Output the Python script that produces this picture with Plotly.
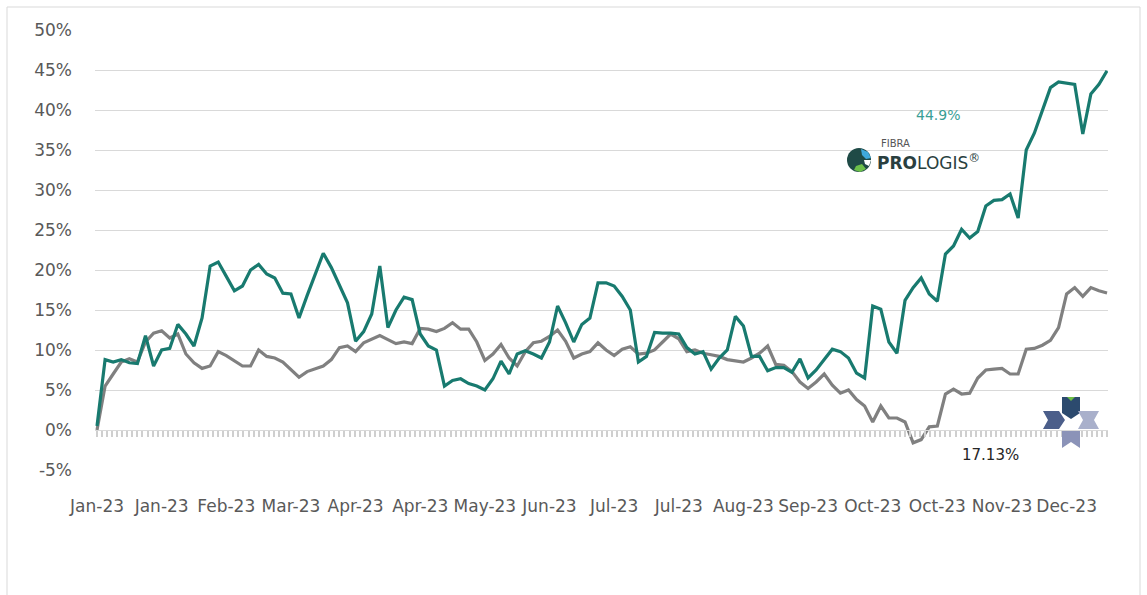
import plotly.graph_objects as go

# ---- data (cumulative return, %) ----
month_labels = ["Jan-23", "Jan-23", "Feb-23", "Mar-23", "Apr-23", "Apr-23", "May-23", "Jun-23",
                "Jul-23", "Jul-23", "Aug-23", "Sep-23", "Oct-23", "Oct-23", "Nov-23", "Dec-23"]
label_step = 8

fibra_prologis = [
    0.5, 8.8, 8.5, 8.8, 8.4, 8.3, 11.8, 8.0, 10.0, 10.2,
    13.2, 12.0, 10.5, 14.0, 20.5, 21.0, 19.2, 17.4, 18.0, 20.0,
    20.7, 19.5, 19.0, 17.1, 17.0, 14.0, 16.8, 19.5, 22.1, 20.3,
    18.0, 15.9, 11.1, 12.3, 14.5, 20.5, 12.8, 15.0, 16.6, 16.3,
    12.0, 10.5, 10.0, 5.5, 6.2, 6.4, 5.8, 5.5, 5.0, 6.4,
    8.6, 7.0, 9.5, 9.9, 9.5, 9.0, 11.0, 15.5, 13.4, 11.0,
    13.2, 14.0, 18.4, 18.4, 18.0, 16.7, 15.0, 8.5, 9.2, 12.2,
    12.1, 12.1, 12.0, 10.3, 9.5, 9.8, 7.6, 9.0, 10.0, 14.2,
    13.0, 9.2, 9.2, 7.4, 7.8, 7.8, 7.2, 8.9, 6.5, 7.5,
    8.8, 10.1, 9.8, 9.0, 7.1, 6.5, 15.5, 15.1, 11.0, 9.6,
    16.2, 17.8, 19.0, 17.0, 16.1, 22.0, 23.0, 25.1, 24.0, 24.8,
    28.0, 28.7, 28.8, 29.5, 26.5, 35.0, 37.1, 40.0, 42.8, 43.5,
    43.4, 43.2, 37.0, 42.0, 43.2, 44.9,
]

benchmark = [
    0.0, 5.5, 7.0, 8.5, 8.9, 8.5, 11.0, 12.1, 12.4, 11.5,
    12.0, 9.5, 8.4, 7.7, 8.0, 9.8, 9.3, 8.6, 8.0, 8.0,
    10.0, 9.2, 9.0, 8.5, 7.5, 6.6, 7.3, 7.6, 8.0, 8.8,
    10.3, 10.5, 9.8, 10.9, 11.4, 11.8, 11.3, 10.8, 11.0, 10.8,
    12.7, 12.6, 12.3, 12.7, 13.4, 12.6, 12.6, 11.0, 8.7, 9.5,
    10.7, 9.0, 8.0, 9.8, 10.9, 11.1, 11.7, 12.5, 11.1, 9.0,
    9.5, 9.8, 10.9, 10.0, 9.3, 10.1, 10.4, 9.5, 9.6, 10.0,
    11.0, 12.0, 11.4, 9.8, 10.0, 9.6, 9.4, 9.2, 8.8, 8.6,
    8.5, 9.0, 9.6, 10.5, 8.2, 8.1, 7.3, 6.0, 5.2, 6.0,
    7.0, 5.6, 4.6, 5.0, 3.8, 3.0, 1.0, 3.0, 1.5, 1.5,
    1.0, -1.6, -1.2, 0.4, 0.5, 4.5, 5.1, 4.5, 4.6, 6.5,
    7.5, 7.6, 7.7, 7.0, 7.0, 10.1, 10.2, 10.6, 11.2, 12.8,
    17.0, 17.8, 16.7, 17.8, 17.4, 17.13,
]

y_tick_values = [-5, 0, 5, 10, 15, 20, 25, 30, 35, 40, 45, 50]
y_tick_text = ["-5%", "0%", "5%", "10%", "15%", "20%", "25%", "30%", "35%", "40%", "45%", "50%"]

fibra_end_label = "44.9%"
bench_end_label = "17.13%"

# ---- layout geometry ----
W, H = 1147, 595
L, R, T, B = 95, 39, 30, 125
PW, PH = W - L - R, H - T - B
n = len(fibra_prologis)
idx = list(range(n))
x_range = [-0.25, (n - 1) + 0.12]


def px(xp):
    return (xp - L) / PW


def py(yp):
    return (H - B - yp) / PH


def path(points):
    return "M " + " L ".join(f"{px(a):.5f},{py(b):.5f}" for a, b in points) + " Z"


GREEN = "#187A6F"
GREY = "#808080"
FONT = "DejaVu Sans"

fig = go.Figure()
fig.add_trace(go.Scatter(x=idx, y=benchmark, mode="lines", name="Benchmark",
                         line=dict(color=GREY, width=3.2), hoverinfo="skip"))
fig.add_trace(go.Scatter(x=idx, y=fibra_prologis, mode="lines", name="FIBRA Prologis",
                         line=dict(color=GREEN, width=3.2), hoverinfo="skip"))
# empty trace that carries the secondary axis drawn along the 0% line
fig.add_trace(go.Scatter(x=[], y=[], xaxis="x2", showlegend=False, hoverinfo="skip"))

shapes = [
    # outer chart frame
    dict(type="rect", xref="paper", yref="paper", x0=px(7), x1=px(1140), y0=py(600), y1=py(7),
         line=dict(color="#D9D9D9", width=1), fillcolor="rgba(0,0,0,0)", layer="below"),
    # globe icon of the logo
    dict(type="circle", xref="paper", yref="paper", x0=px(847), x1=px(871), y0=py(172), y1=py(148),
         line=dict(width=0), fillcolor="#1F4A46"),
    dict(type="path", xref="paper", yref="paper",
         path=path([(861, 149), (868, 152), (871, 158), (866, 159), (862, 155)]),
         line=dict(width=0), fillcolor="#3FA9DC"),
    dict(type="path", xref="paper", yref="paper",
         path=path([(856, 166), (862, 164), (866, 169), (860, 172), (854, 170)]),
         line=dict(width=0), fillcolor="#6CC04A"),
    dict(type="path", xref="paper", yref="paper",
         path=path([(864, 160), (871, 160), (869, 166), (865, 164)]),
         line=dict(width=0), fillcolor="#FFFFFF"),
    # bottom-right emblem (four chevrons)
    dict(type="path", xref="paper", yref="paper",
         path=path([(1062, 397), (1080, 397), (1080, 413), (1071, 419), (1062, 413)]),
         line=dict(width=0), fillcolor="#2C4A6E"),
    dict(type="path", xref="paper", yref="paper",
         path=path([(1067, 397), (1075, 397), (1071, 401)]),
         line=dict(width=0), fillcolor="#6DBE45"),
    dict(type="path", xref="paper", yref="paper",
         path=path([(1043, 411), (1059, 411), (1065, 420), (1059, 429), (1043, 429), (1048, 420)]),
         line=dict(width=0), fillcolor="#4B5E8A"),
    dict(type="path", xref="paper", yref="paper",
         path=path([(1078, 411), (1099, 411), (1094, 420), (1099, 429), (1078, 429), (1083, 420)]),
         line=dict(width=0), fillcolor="#A9B0CB"),
    dict(type="path", xref="paper", yref="paper",
         path=path([(1062, 431), (1080, 431), (1080, 448), (1071, 442), (1062, 448)]),
         line=dict(width=0), fillcolor="#8B93B8"),
]

annotations = [
    dict(x=px(938), y=py(115), xref="paper", yref="paper", text=fibra_end_label, showarrow=False,
         font=dict(family=FONT, size=14, color="#3A9E95"), xanchor="center", yanchor="middle"),
    dict(x=px(990), y=py(455), xref="paper", yref="paper", text=bench_end_label, showarrow=False,
         font=dict(family=FONT, size=15, color="#262626"), xanchor="center", yanchor="middle"),
    dict(x=px(879), y=py(144), xref="paper", yref="paper", text="FIBRA", showarrow=False,
         font=dict(family=FONT, size=10, color="#555555"), xanchor="left", yanchor="middle"),
    dict(x=px(875), y=py(162), xref="paper", yref="paper",
         text="<b>PRO</b>LOGIS<sup>®</sup>", showarrow=False,
         font=dict(family=FONT, size=17, color="#2A3F3F"), xanchor="left", yanchor="middle"),
]

fig.update_layout(
    width=W, height=H, autosize=False,
    margin=dict(l=L, r=R, t=T, b=B, pad=0),
    paper_bgcolor="white", plot_bgcolor="white",
    showlegend=False,
    font=dict(family=FONT, size=17, color="#595959"),
    xaxis=dict(range=x_range, tickmode="array",
               tickvals=[i * label_step for i in range(len(month_labels))],
               ticktext=month_labels, showgrid=False, zeroline=False, showline=False,
               ticks="", ticklabelstandoff=24,
               tickfont=dict(family=FONT, size=17, color="#595959")),
    xaxis2=dict(overlaying="x", anchor="free", position=5 / 55, range=x_range,
                tickmode="linear", tick0=0, dtick=0.625, ticks="outside", ticklen=6,
                tickwidth=1.5, tickcolor="#CFCFCF", showline=True, linecolor="#D9D9D9",
                showticklabels=False, showgrid=False, zeroline=False),
    yaxis=dict(range=[-5, 50], tickmode="array", tickvals=y_tick_values, ticktext=y_tick_text,
               showgrid=True, gridcolor="#D9D9D9", gridwidth=1, zeroline=False, showline=False,
               ticks="", ticklabelstandoff=22,
               tickfont=dict(family=FONT, size=17, color="#595959")),
    shapes=shapes,
    annotations=annotations,
)

fig.write_html("out.html", config={"displayModeBar": False},
               post_script="document.body.style.margin='0';")
